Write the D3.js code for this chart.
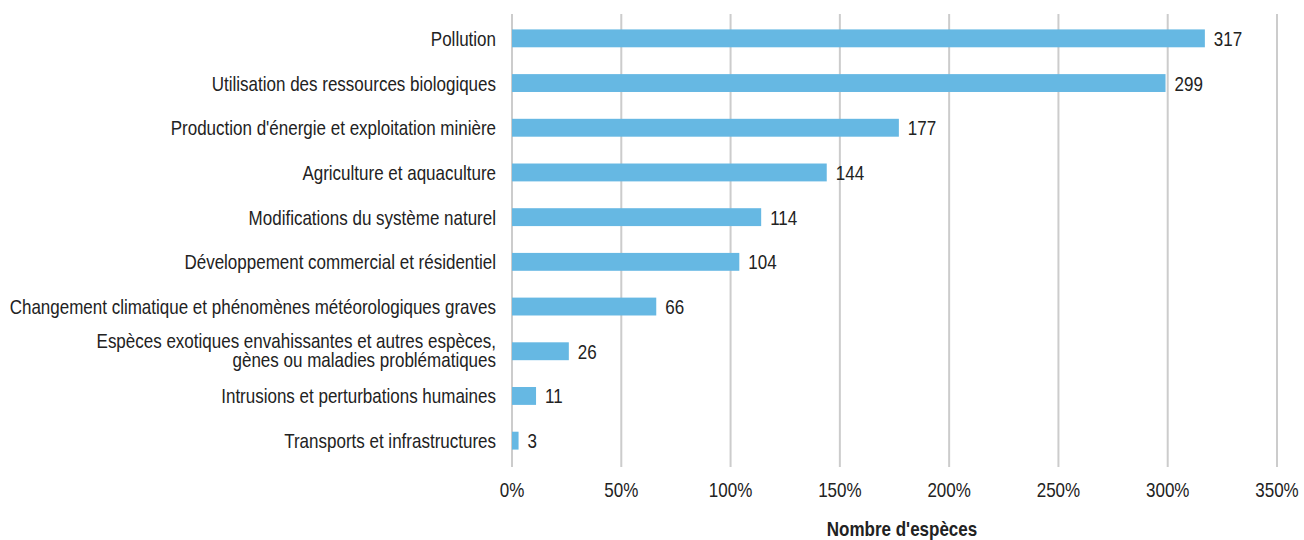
<!DOCTYPE html>
<html><head><meta charset="utf-8">
<script src="https://cdn.jsdelivr.net/npm/d3@7"></script>
<style>
body{margin:0;background:#fff;}
text{font-family:"Liberation Sans",Arial,sans-serif;fill:#222;}
</style></head>
<body><svg id="c" width="1304" height="540"></svg>
<script>
const categories = [
  ["Pollution"],
  ["Utilisation des ressources biologiques"],
  ["Production d'énergie et exploitation minière"],
  ["Agriculture et aquaculture"],
  ["Modifications du système naturel"],
  ["Développement commercial et résidentiel"],
  ["Changement climatique et phénomènes météorologiques graves"],
  ["Espèces exotiques envahissantes et autres espèces,", "gènes ou maladies problématiques"],
  ["Intrusions et perturbations humaines"],
  ["Transports et infrastructures"]
];
const values = [317, 299, 177, 144, 114, 104, 66, 26, 11, 3];
const tickValues = [0, 50, 100, 150, 200, 250, 300, 350];
const tickLabels = ["0%", "50%", "100%", "150%", "200%", "250%", "300%", "350%"];
const axisTitle = "Nombre d'espèces";

const FS = 20, SX = 0.85;
const svg = d3.select("#c");
const x = d3.scaleLinear().domain([0, 350]).range([512, 1277]);
const y = d3.scaleBand().domain(d3.range(values.length)).range([16, 463]).paddingInner(0.6).paddingOuter(0.3);

function cText(g, tx, ty) {
  return g.append("g").attr("transform", `translate(${tx},${ty}) scale(${SX},1)`).append("text");
}

// grid
svg.append("g").selectAll("line").data(tickValues).join("line")
  .attr("x1", d => x(d)).attr("x2", d => x(d))
  .attr("y1", 14).attr("y2", 467)
  .attr("stroke", "#cccccc").attr("stroke-width", 2);

// bars
svg.append("g").selectAll("rect").data(values).join("rect")
  .attr("x", x(0)).attr("y", (d, i) => y(i))
  .attr("width", d => x(d) - x(0)).attr("height", y.bandwidth())
  .attr("fill", "#66b8e3");

const cy = i => y(i) + y.bandwidth() / 2;

// value labels
const vg = svg.append("g");
values.forEach((v, i) => {
  cText(vg, x(v) + 9, cy(i) + 7.5).attr("font-size", FS).text(v);
});

// category labels
const lg = svg.append("g");
categories.forEach((lines, i) => {
  const n = lines.length;
  const t = cText(lg, 496, cy(i) + 7.5 - (n - 1) * 10.5).attr("font-size", FS).attr("text-anchor", "end");
  lines.forEach((line, k) => {
    t.append("tspan").attr("x", 0).attr("y", k * 19).text(line);
  });
});

// x tick labels
const tg = svg.append("g");
tickValues.forEach((d, i) => {
  cText(tg, x(d), 496.5).attr("font-size", FS).attr("text-anchor", "middle").text(tickLabels[i]);
});

// axis title
cText(svg, 902, 536).attr("font-size", FS).attr("font-weight", "bold").attr("text-anchor", "middle").text(axisTitle);
</script></body></html>
